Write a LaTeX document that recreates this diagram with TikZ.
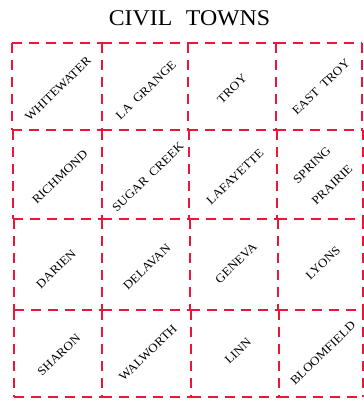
\documentclass[tikz,border=0pt]{standalone}
\usepackage{fontspec}
\setmainfont{Liberation Serif}
\newfontfamily\titlefont[FakeStretch=1.06]{Liberation Serif}
\newcommand{\townlbl}[1]{\scalebox{1.1}[1]{#1}}
\definecolor{gridred}{RGB}{236,22,58}
\begin{document}
\begin{tikzpicture}[x=1pt,y=-1pt,
  edge/.style={draw=gridred,line width=1.9pt,dash pattern=on 10pt off 7pt},
  town/.style={rotate=44,font=\fontsize{12}{14}\selectfont,inner sep=0pt},
  ttl/.style={font=\titlefont\fontsize{22.5}{26}\selectfont,inner sep=0pt}]
\useasboundingbox (0,0) rectangle (364,407);
\node[ttl] (title) at (189.5,18.5) {CIVIL\hspace{0.6em}TOWNS};
% grid corners
\coordinate (r0a) at (12,43);  \coordinate (r0b) at (102,43);  \coordinate (r0c) at (188,43);  \coordinate (r0d) at (276,43);  \coordinate (r0e) at (362,43);
\coordinate (r1a) at (12,130); \coordinate (r1b) at (102,130); \coordinate (r1c) at (188,130); \coordinate (r1d) at (276,130); \coordinate (r1e) at (362,130);
\coordinate (s1a) at (13,130); \coordinate (s1b) at (102,130); \coordinate (s1c) at (189,130); \coordinate (s1d) at (277,130); \coordinate (s1e) at (363,130);
\coordinate (r2a) at (13,219); \coordinate (r2b) at (102,219); \coordinate (r2c) at (189,219); \coordinate (r2d) at (277,219); \coordinate (r2e) at (363,219);
\coordinate (s2a) at (14,219); \coordinate (s2b) at (102,219); \coordinate (s2c) at (190,219); \coordinate (s2d) at (278,219); \coordinate (s2e) at (363,219);
\coordinate (r3a) at (14,310); \coordinate (r3b) at (102,310); \coordinate (r3c) at (190,310); \coordinate (r3d) at (278,310); \coordinate (r3e) at (363,310);
\coordinate (s3a) at (14,310); \coordinate (s3b) at (102,310); \coordinate (s3c) at (191,310); \coordinate (s3d) at (279,310); \coordinate (s3e) at (363,310);
\coordinate (r4a) at (14,397); \coordinate (r4b) at (102,397); \coordinate (r4c) at (191,397); \coordinate (r4d) at (279,397); \coordinate (r4e) at (363,397);
% horizontal edges
\foreach \r in {r0,r1,r2,r3,r4}{
  \draw[edge] (\r a) -- (\r b);
  \draw[edge] (\r b) -- (\r c);
  \draw[edge] (\r c) -- (\r d);
  \draw[edge] (\r d) -- (\r e);
}
% vertical edges
\foreach \c in {a,b,c,d,e}{
  \draw[edge] (r0\c) -- (r1\c);
  \draw[edge] (s1\c) -- (r2\c);
  \draw[edge] (s2\c) -- (r3\c);
  \draw[edge] (s3\c) -- (r4\c);
}
% labels
\node[town] (t11) at (58,89) {\townlbl{WHITEWATER}};
\node[town] (t12) at (146,90) {\townlbl{LA\hspace{0.45em}GRANGE}};
\node[town] (t13) at (232,89) {\townlbl{TROY}};
\node[town] (t14) at (321,87) {\townlbl{EAST\hspace{0.45em}TROY}};
\node[town] (t21) at (60,177) {\townlbl{RICHMOND}};
\node[town] (t22) at (148,177) {\townlbl{SUGAR\hspace{0.45em}CREEK}};
\node[town] (t23) at (235,177) {\townlbl{LAFAYETTE}};
\node[town] (t24a) at (312,165) {\townlbl{SPRING}};
\node[town] (t24b) at (332,185) {\townlbl{PRAIRIE}};
\node[town] (t31) at (56,269) {\townlbl{DARIEN}};
\node[town] (t32) at (147,267) {\townlbl{DELAVAN}};
\node[town] (t33) at (236,263) {\townlbl{GENEVA}};
\node[town] (t34) at (323,263) {\townlbl{LYONS}};
\node[town] (t41) at (59,355) {\townlbl{SHARON}};
\node[town] (t42) at (148,353) {\townlbl{WALWORTH}};
\node[town] (t43) at (238,351) {\townlbl{LINN}};
\node[town] (t44) at (323,353) {\townlbl{BLOOMFIELD}};
\end{tikzpicture}
\end{document}
